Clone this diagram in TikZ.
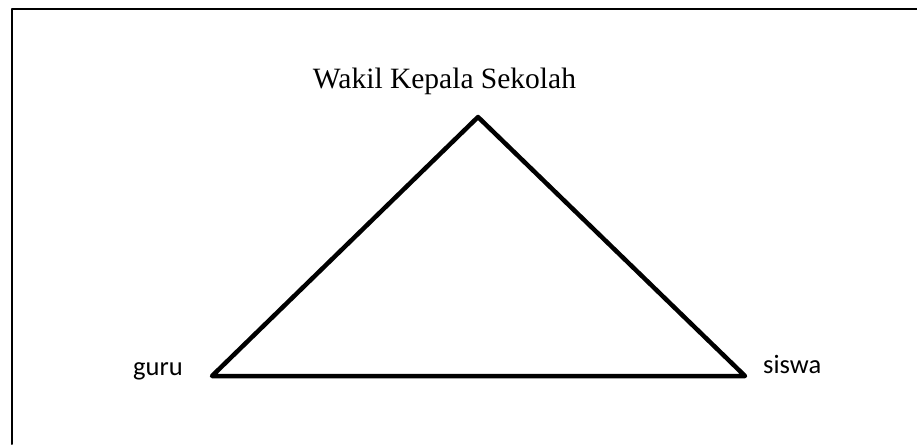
\documentclass[tikz,border=0pt]{standalone}
\usepackage{fontspec}
\setmainfont{Liberation Serif}
\newfontfamily\calibri{Carlito}
\usetikzlibrary{positioning}

\begin{document}
\begin{tikzpicture}[line cap=round,line join=round,x=1pt,y=-1pt]
\useasboundingbox (0,0) rectangle (917,444);
\draw [line width=2pt] (12,444) -- (12,9) -- (917,9);
\coordinate (puncak) at (478,117);
\coordinate (kiri) at (212,376);
\coordinate (kanan) at (745,376);
\draw [line width=4.5pt] (puncak) -- (kiri) -- (kanan) -- cycle;
\node [anchor=base,font=\fontsize{29.5}{32}\selectfont] (wakil) at (444.5,88) {Wakil Kepala Sekolah};
\node [anchor=base west,inner sep=0pt,font=\calibri\fontsize{26.5}{29}\selectfont] (guru) at (133,375) {guru};
\node [anchor=base west,inner sep=0pt,font=\calibri\fontsize{26.5}{29}\selectfont] (siswa) at (763,373) {siswa};
\end{tikzpicture}
\end{document}
